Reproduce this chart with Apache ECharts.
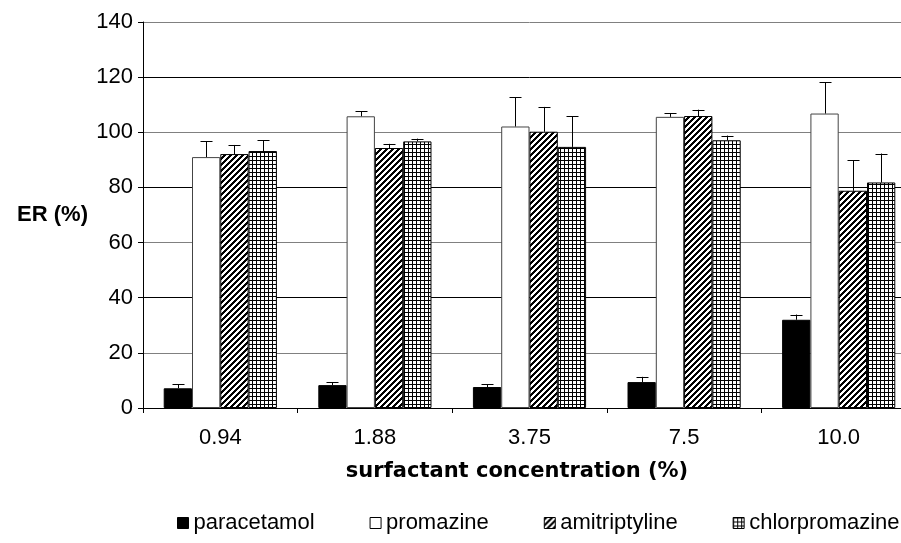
<!DOCTYPE html>
<html><head><meta charset="utf-8">
<script src="https://cdn.jsdelivr.net/npm/echarts@6/dist/echarts.min.js"></script>
<style>html,body{margin:0;padding:0;background:#fff;overflow:hidden;width:901px;height:543px}#c{width:916px;height:543px}</style>
</head><body><div id="c"></div>
<script>
var categories = ['0.94', '1.88', '3.75', '7.5', '10.0'];
var seriesNames = ['paracetamol', 'promazine', 'amitriptyline', 'chlorpromazine'];
var paracetamol = [7.15, 8.3, 7.6, 9.4, 32.0];
var paracetamolErr = [1.45, 1.1, 1.1, 1.9, 1.9];
var promazine = [91.0, 105.8, 102.1, 105.6, 106.8];
var promazineErr = [5.7, 1.8, 10.6, 1.4, 11.3];
var amitriptyline = [92.1, 94.3, 100.2, 105.9, 78.8];
var amitriptylineErr = [3.3, 1.5, 9.0, 2.3, 11.0];
var chlorpromazine = [93.2, 96.7, 94.7, 97.1, 81.8];
var chlorpromazineErr = [3.9, 1.0, 11.1, 1.7, 10.5];
var yTicks = [0, 20, 40, 60, 80, 100, 120, 140];

var values = [paracetamol, promazine, amitriptyline, chlorpromazine];
var errors = [paracetamolErr, promazineErr, amitriptylineErr, chlorpromazineErr];

function stripes() {
  var c = document.createElement('canvas'); c.width = 6; c.height = 6;
  var ctx = c.getContext('2d');
  ctx.fillStyle = '#fff'; ctx.fillRect(0, 0, 6, 6);
  ctx.fillStyle = '#000';
  for (var x = 0; x < 6; x++) for (var y = 0; y < 6; y++) {
    if (((x + y) % 6) < 3) ctx.fillRect(x, y, 1, 1);
  }
  return c;
}
function gridPat() {
  var c = document.createElement('canvas'); c.width = 4; c.height = 4;
  var ctx = c.getContext('2d');
  ctx.fillStyle = '#fff'; ctx.fillRect(0, 0, 4, 4);
  ctx.fillStyle = '#000';
  ctx.fillRect(0, 0, 4, 1); ctx.fillRect(0, 0, 1, 4);
  return c;
}
var fills = [
  '#000',
  '#fff',
  { image: stripes(), repeat: 'repeat' },
  { image: gridPat(), repeat: 'repeat' }
];
var borders = ['#000', '#444', '#000', '#000'];
var barFrac = 0.183;
var FONT = '"Liberation Sans", Arial, sans-serif';

var series = [];
seriesNames.forEach(function (name, i) {
  series.push({
    name: name, type: 'bar', barWidth: (barFrac * 100) + '%', barGap: '0%',
    data: values[i],
    itemStyle: { color: fills[i], borderColor: borders[i], borderWidth: 1 },
    emphasis: { disabled: true }, animation: false
  });
});
seriesNames.forEach(function (name, i) {
  series.push({
    type: 'custom', name: name + '_err', z: 10, animation: false, silent: true,
    data: values[i].map(function (v, k) { return [k, v, errors[i][k]]; }),
    renderItem: function (params, api) {
      var k = api.value(0), v = api.value(1), e = api.value(2);
      var catW = api.size([1, 0])[0];
      var off = (i - 1.5) * barFrac * catW;
      var p0 = api.coord([k, v]);
      var p1 = api.coord([k, v + e]);
      var x = Math.round(p0[0] + off) + 0.5;
      var st = { stroke: '#000', lineWidth: 1 };
      return { type: 'group', children: [
        { type: 'line', shape: { x1: x, y1: p0[1], x2: x, y2: p1[1] }, style: st },
        { type: 'line', shape: { x1: x - 6, y1: Math.round(p1[1]) + 0.5, x2: x + 6, y2: Math.round(p1[1]) + 0.5 }, style: st }
      ]};
    }
  });
});

var chart = echarts.init(document.getElementById('c'), null, { renderer: 'canvas' });
chart.setOption({
  animation: false,
  textStyle: { fontFamily: FONT, color: '#000' },
  grid: { left: 143, right: 0, top: 22, bottom: 135 },
  legend: {
    data: seriesNames, bottom: 4, left: 172, icon: 'rect', itemWidth: 11, itemHeight: 11,
    itemGap: 55, itemStyle: { borderColor: '#000', borderWidth: 1 },
    textStyle: { fontFamily: FONT, fontSize: 22, color: '#000' },
    selectedMode: false
  },
  xAxis: {
    type: 'category', data: categories,
    axisLine: { lineStyle: { color: '#000', width: 1 } },
    axisTick: { show: true, length: 5, lineStyle: { color: '#000' } },
    axisLabel: { fontSize: 22, color: '#000', margin: 19, fontFamily: FONT },
    name: 'surfactant concentration (%)', nameLocation: 'middle', nameGap: 53,
    nameTextStyle: { fontSize: 21, fontWeight: 'bold', color: '#000', fontFamily: '"DejaVu Sans", sans-serif', padding: [0, 25, 0, 0] }
  },
  yAxis: {
    type: 'value', min: 0, max: 140, interval: 20,
    axisLine: { show: true, lineStyle: { color: '#000', width: 1 } },
    axisTick: { show: true, length: 5, lineStyle: { color: '#000' } },
    axisLabel: { fontSize: 22, color: '#000', margin: 10, fontFamily: FONT,
      formatter: function (v) { return yTicks.indexOf(v) >= 0 ? String(v) : ''; } },
    splitLine: { show: true, lineStyle: { color: ['#000', '#808080'], width: 1 } },
    name: 'ER (%)', nameLocation: 'middle', nameRotate: 0, nameGap: 55,
    nameTextStyle: { fontSize: 22, fontWeight: 'bold', color: '#000', fontFamily: FONT, align: 'right', padding: [8, 0, 0, 0] }
  },
  series: series
});
</script></body></html>
